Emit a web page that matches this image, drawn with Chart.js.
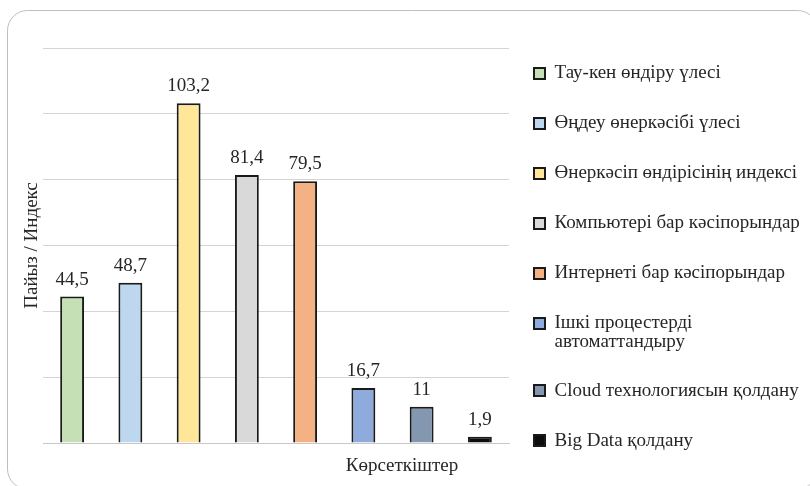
<!DOCTYPE html>
<html>
<head>
<meta charset="utf-8">
<script src="https://cdn.jsdelivr.net/npm/chart.js@4.4.1/dist/chart.umd.min.js"></script>
<style>
  html, body { margin: 0; padding: 0; background: #ffffff; }
  #wrap { width: 810px; height: 486px; position: relative; }
</style>
</head>
<body>
<div id="wrap"><canvas id="c" width="810" height="486"></canvas></div>
<script>
const categories = ['Көрсеткіштер'];
const seriesNames = [
  'Тау-кен өндіру үлесі',
  'Өңдеу өнеркәсібі үлесі',
  'Өнеркәсіп өндірісінің индексі',
  'Компьютері бар кәсіпорындар',
  'Интернеті бар кәсіпорындар',
  ['Ішкі процестерді', 'автоматтандыру'],
  'Cloud технологиясын қолдану',
  'Big Data қолдану'
];
const seriesValues = [44.5, 48.7, 103.2, 81.4, 79.5, 16.7, 11, 1.9];
const seriesColors = ['#C5E0B4', '#BDD7EE', '#FFE699', '#D9D9D9', '#F4B183', '#8FAADC', '#8497B0', '#0D0D0D'];
const yTicks = [0, 20, 40, 60, 80, 100, 120];
const yTitle = 'Пайыз / Индекс';

const FONT = "'Liberation Serif', 'Times New Roman', serif";
const LEGEND_WIDTH = 301;

// let the right-hand legend be wider/taller than Chart.js' default limits
if (Chart.Legend && Chart.Legend._element) {
  const L = Chart.Legend._element;
  const origFit = L.prototype.fit;
  L.prototype.fit = function () {
    this.maxWidth = Math.max(this.maxWidth, 400);
    this.maxHeight = Math.max(this.maxHeight, 1000);
    const r = origFit.call(this);
    if (this.options.position === 'right') this.width = LEGEND_WIDTH;
    return r;
  };
}

const datasets = seriesNames.map((name, i) => ({
  label: name,
  data: [seriesValues[i]],
  backgroundColor: seriesColors[i],
  borderColor: '#1a1a1a',
  borderWidth: 2,
  barPercentage: 0.41,
  categoryPercentage: 1.0
}));

const frame = {
  id: 'frame',
  beforeDraw(chart) {
    const ctx = chart.ctx;
    ctx.save();
    ctx.fillStyle = '#ffffff';
    ctx.fillRect(0, 0, chart.width, chart.height);
    const x = 7.5, y = 10.5, w = 810, h = 478.5, r = 20;
    ctx.beginPath();
    ctx.moveTo(x + r, y);
    ctx.lineTo(x + w - r, y);
    ctx.arcTo(x + w, y, x + w, y + r, r);
    ctx.lineTo(x + w, y + h - r);
    ctx.arcTo(x + w, y + h, x + w - r, y + h, r);
    ctx.lineTo(x + r, y + h);
    ctx.arcTo(x, y + h, x, y + h - r, r);
    ctx.lineTo(x, y + r);
    ctx.arcTo(x, y, x + r, y, r);
    ctx.closePath();
    ctx.strokeStyle = '#bfbfbf';
    ctx.lineWidth = 1;
    ctx.stroke();
    ctx.restore();
  }
};

const legendPlace = {
  id: 'legendPlace',
  afterLayout(chart) {
    const lg = chart.legend;
    if (!lg) return;
    lg.left -= 6; lg.right -= 6;
    lg.top = 33; lg.bottom = 2000;
  }
};

const valueLabels = {
  id: 'valueLabels',
  afterDatasetsDraw(chart) {
    const ctx = chart.ctx;
    ctx.save();
    ctx.font = '19px ' + FONT;
    ctx.fillStyle = '#262626';
    ctx.textAlign = 'center';
    ctx.textBaseline = 'alphabetic';
    chart.data.datasets.forEach((ds, i) => {
      const meta = chart.getDatasetMeta(i);
      meta.data.forEach((bar, j) => {
        const v = ds.data[j];
        ctx.fillText(String(v).replace('.', ','), bar.x, bar.y - 12);
      });
    });
    ctx.restore();
  }
};

new Chart(document.getElementById('c'), {
  type: 'bar',
  data: { labels: categories, datasets: datasets },
  options: {
    responsive: false,
    animation: false,
    events: [],
    layout: { padding: { top: 48, bottom: 0, left: 0, right: 0 } },
    plugins: {
      legend: {
        position: 'right',
        align: 'start',
        labels: {
          boxWidth: 11,
          boxHeight: 11,
          padding: 31,
          color: '#262626',
          font: { family: FONT, size: 19, lineHeight: 0.95 }
        }
      },
      tooltip: { enabled: false }
    },
    scales: {
      x: {
        grid: { display: false, drawTicks: false },
        border: { display: true, color: '#c8c8c8' },
        ticks: { color: '#262626', font: { family: FONT, size: 19 }, padding: 12, labelOffset: 126 },
        afterFit(scale) { scale.height = 486 - 443; }
      },
      y: {
        min: 0,
        max: 120,
        afterBuildTicks(scale) { scale.ticks = yTicks.map(v => ({ value: v })); },
        grid: { color: '#d4d4d4', drawTicks: false },
        border: { display: false },
        ticks: { display: false },
        title: { display: true, text: yTitle, color: '#262626', font: { family: FONT, size: 19 }, padding: { top: 21, bottom: 0 } },
        afterFit(scale) { scale.width = 43; }
      }
    }
  },
  plugins: [frame, legendPlace, valueLabels]
});
</script>
</body>
</html>
